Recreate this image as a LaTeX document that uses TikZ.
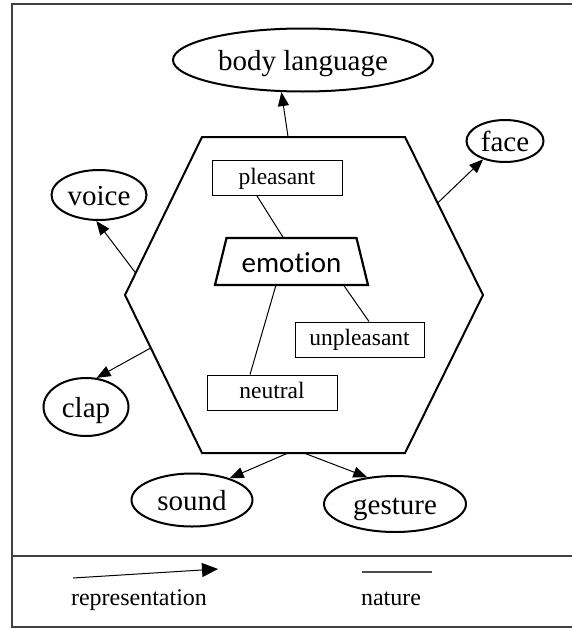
\documentclass[tikz,border=0pt]{standalone}
\usepackage{fontspec}
\setmainfont{Liberation Serif}
\newfontfamily\emofont[Ligatures={NoCommon,NoContextual}]{Carlito}
\usetikzlibrary{arrows.meta,calc,shapes.geometric}
\begin{document}
\begin{tikzpicture}[x=1pt,y=-1pt]
\tikzset{
 oval/.style={ellipse, draw, line width=2pt, inner sep=0pt, font=\fontsize{29}{34}\selectfont, text height=20pt, text depth=0pt},
 lbox/.style={rectangle, draw, line width=0.9pt, inner sep=0pt, minimum width=130pt, minimum height=35pt, font=\fontsize{23.5}{28}\selectfont, text height=12pt, text depth=0pt},
 rep/.style={-{Triangle[length=14pt,width=11pt]}, line width=1pt},
 nat/.style={line width=1pt},
 legtext/.style={anchor=base, inner sep=0pt, font=\fontsize{24}{28}\selectfont},
 frame/.style={line width=1.3pt, black!75}
}
\useasboundingbox (0,0) rectangle (572,629);
% frame
\draw[frame] (573,4) -- (12,4) -- (12,627) -- (573,627);
\draw[frame] (12,556) -- (573,556);
% hexagon
\coordinate (TL) at (202,137);
\coordinate (TR) at (405,137);
\coordinate (R) at (483,295);
\coordinate (BR) at (405,453);
\coordinate (BL) at (202,453);
\coordinate (L) at (125,295);
\draw[line width=2pt, line join=miter] (TL) -- (TR) -- (R) -- (BR) -- (BL) -- (L) -- cycle;
% outer ellipses
\node[oval, minimum width=260pt, minimum height=63pt] (body) at (303,60) {body language};
\node[oval, minimum width=77pt, minimum height=42pt] (face) at (505,141) {face};
\node[oval, minimum width=95pt, minimum height=50pt] (voice) at (99,195) {voice};
\node[oval, minimum width=85pt, minimum height=58pt] (clap) at (86,407) {clap};
\node[oval, minimum width=121pt, minimum height=53pt] (sound) at (192,500) {sound};
\node[oval, minimum width=142pt, minimum height=56pt] (gesture) at (395,504) {gesture};
% arrows
\draw[rep] ($(TL)!0.424!(TR)$) -- (body.236);
\draw[rep] ($(TR)!0.418!(R)$) -- (face.220);
\draw[rep] ($(L)!0.139!(TL)$) -- (voice.264);
\draw[rep] ($(L)!0.335!(BL)$) -- (clap.70);
\draw[rep] ($(BL)!0.424!(BR)$) -- (sound.30);
\draw[rep] ($(BL)!0.502!(BR)$) -- (gesture.136);
% inner boxes
\node[lbox] (pleasant) at (277,178) {pleasant};
\node[lbox, minimum width=129pt] (unpleasant) at (359.5,339.5) {unpleasant};
\node[lbox] (neutral) at (272,392.5) {neutral};
% emotion
\node[inner sep=0pt, font=\emofont\fontsize{29}{34}\selectfont, text height=21pt, text depth=0pt] (emo) at (291.5,261.5) {emotion};
\draw[line width=2.2pt, line join=miter] ([shift={(-65,-23.5)}]emo.center) -- ([shift={(65,-23.5)}]emo.center) -- ([shift={(76.5,23.5)}]emo.center) -- ([shift={(-76.5,23.5)}]emo.center) -- cycle;
\draw[nat] ([xshift=-20pt]pleasant.south) -- ([shift={(-8,-23.5)}]emo.center);
\draw[nat] ([shift={(-15.5,23.5)}]emo.center) -- ([xshift=-22pt]neutral.north);
\draw[nat] ([shift={(52,23.5)}]emo.center) -- ([xshift=9.5pt]unpleasant.north);
% legend
\coordinate (legA) at (73,578);
\coordinate (legB) at (218,569);
\draw[line width=1pt, -{Triangle[length=16pt,width=14pt]}] (legA) -- (legB);
\coordinate (natA) at (362,572);
\coordinate (natB) at (432,572);
\draw[black!70, line width=1.2pt] (natA) -- (natB);
\node[legtext] (replab) at (139,605) {representation};
\node[legtext] (natlab) at (391,605) {nature};
\end{tikzpicture}
\end{document}
